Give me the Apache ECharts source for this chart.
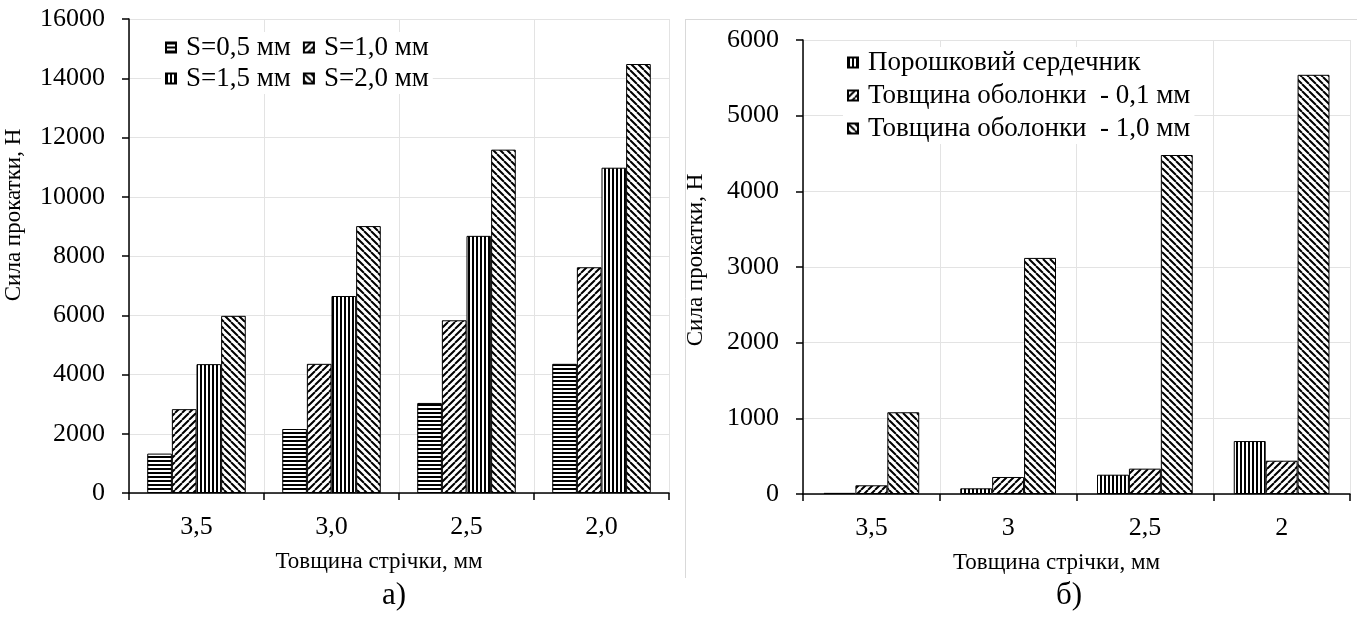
<!DOCTYPE html>
<html>
<head>
<meta charset="utf-8">
<script src="https://cdn.jsdelivr.net/npm/echarts@6/dist/echarts.min.js"></script>
<style>
html,body{margin:0;padding:0;background:#fff;}
#c{width:1363px;height:621px;}
</style>
</head>
<body>
<div id="c"></div>
<script>
// ---- data: chart a) ----
const catsA = ['3,5', '3,0', '2,5', '2,0'];
const namesA = ['S=0,5 мм', 'S=1,0 мм', 'S=1,5 мм', 'S=2,0 мм'];
const s05 = [1330, 2160, 3040, 4360];
const s10 = [2830, 4360, 5830, 7620];
const s15 = [4350, 6650, 8680, 10980];
const s20 = [5980, 9010, 11590, 14480];

// ---- data: chart б) ----
const catsB = ['3,5', '3', '2,5', '2'];
const namesB = ['Порошковий сердечник', 'Товщина оболонки  - 0,1 мм', 'Товщина оболонки  - 1,0 мм'];
const core = [15, 75, 255, 700];
const shell01 = [115, 225, 335, 440];
const shell10 = [1080, 3120, 4480, 5540];

const yTicksA = [0, 2000, 4000, 6000, 8000, 10000, 12000, 14000, 16000];
const yTicksB = [0, 1000, 2000, 3000, 4000, 5000, 6000];

function pat(w, h, draw) {
  const c = document.createElement('canvas');
  c.width = w; c.height = h;
  const g = c.getContext('2d');
  g.fillStyle = '#fff'; g.fillRect(0, 0, w, h);
  g.fillStyle = '#000'; g.strokeStyle = '#000';
  draw(g, w, h);
  return { image: c, repeat: 'repeat' };
}
const pH = pat(4, 4, (g) => { g.fillRect(0, 0, 4, 2); });
const pV = pat(4, 4, (g) => { g.fillRect(0, 0, 2, 4); });
const pF = pat(7, 7, (g, w, h) => { g.lineWidth = 2; g.beginPath(); for (let k = -1; k <= 1; k++) { g.moveTo(k * w, h); g.lineTo(k * w + w, 0); } g.stroke(); });
const pB = pat(7, 7, (g, w, h) => { g.lineWidth = 2; g.beginPath(); for (let k = -1; k <= 1; k++) { g.moveTo(k * w, 0); g.lineTo(k * w + w, h); } g.stroke(); });

const FONT = 'Liberation Serif';
const txt = { fontFamily: FONT, color: '#000' };
const plain = (v) => String(v);

function bar(name, data, fill, xi, yi, gap) {
  return {
    type: 'bar', name, data, xAxisIndex: xi, yAxisIndex: yi,
    barGap: '0%', barCategoryGap: gap,
    itemStyle: { color: fill, borderColor: '#000', borderWidth: 1 },
    emphasis: { disabled: true }, animation: false
  };
}

const gridLine = { show: true, lineStyle: { color: '#e3e3e3', width: 1 } };
const axisLine = { show: true, lineStyle: { color: '#000', width: 1.5 } };
const tick = { show: true, length: 7, lineStyle: { color: '#000', width: 1.5 } };
const legText = { ...txt, fontSize: 27, lineHeight: 27, padding: [0, 0, 0, 5] };

const option = {
  backgroundColor: '#fff',
  animation: false,
  textStyle: { fontFamily: FONT },
  grid: [
    { left: 129, right: 1363 - 669, top: 19, bottom: 621 - 493, containLabel: false },
    { left: 803, right: 1363 - 1350, top: 40, bottom: 621 - 494, containLabel: false }
  ],
  xAxis: [
    { type: 'category', gridIndex: 0, data: catsA,
      axisLine, axisTick: tick,
      axisLabel: { ...txt, fontSize: 26, margin: 21 },
      splitLine: gridLine,
      name: 'Товщина стрічки, мм', nameLocation: 'middle', nameGap: 57,
      nameTextStyle: { ...txt, fontSize: 23, padding: [0, 40, 0, 0] } },
    { type: 'category', gridIndex: 1, data: catsB,
      axisLine, axisTick: tick,
      axisLabel: { ...txt, fontSize: 26, margin: 21 },
      splitLine: gridLine,
      name: 'Товщина стрічки, мм', nameLocation: 'middle', nameGap: 57,
      nameTextStyle: { ...txt, fontSize: 23, padding: [0, 40, 0, 0] } }
  ],
  yAxis: [
    { type: 'value', gridIndex: 0, min: yTicksA[0], max: yTicksA[yTicksA.length - 1], interval: 2000,
      axisLine, axisTick: tick,
      axisLabel: { ...txt, fontSize: 26, margin: 24, formatter: plain },
      splitLine: gridLine,
      name: 'Сила прокатки, Н', nameLocation: 'middle', nameGap: 104, nameRotate: 90,
      nameTextStyle: { ...txt, fontSize: 23, padding: [0, 0, 0, 82] } },
    { type: 'value', gridIndex: 1, min: yTicksB[0], max: yTicksB[yTicksB.length - 1], interval: 1000,
      axisLine, axisTick: tick,
      axisLabel: { ...txt, fontSize: 26, margin: 24, formatter: plain },
      splitLine: gridLine,
      name: 'Сила прокатки, Н', nameLocation: 'middle', nameGap: 96, nameRotate: 90,
      nameTextStyle: { ...txt, fontSize: 23, padding: [0, 0, 0, 14] } }
  ],
  legend: [
    { data: [namesA[0], namesA[1]], left: 161, top: 32, orient: 'horizontal', itemGap: 12,
      itemWidth: 10, itemHeight: 10, icon: 'rect', backgroundColor: '#fff', padding: [2, 4],
      textStyle: legText, selectedMode: false },
    { data: [namesA[2], namesA[3]], left: 161, top: 63, orient: 'horizontal', itemGap: 12,
      itemWidth: 10, itemHeight: 10, icon: 'rect', backgroundColor: '#fff', padding: [2, 4],
      textStyle: legText, selectedMode: false },
    { data: namesB, left: 843, top: 47, orient: 'vertical', itemGap: 6,
      itemWidth: 10, itemHeight: 10, icon: 'rect', backgroundColor: '#fff', padding: [2, 4],
      textStyle: legText, selectedMode: false }
  ],
  graphic: [
    { type: 'line', shape: { x1: 685.5, y1: 19, x2: 685.5, y2: 578 }, style: { stroke: '#d9d9d9', lineWidth: 1 }, silent: true },
    { type: 'line', shape: { x1: 685, y1: 19.5, x2: 1357, y2: 19.5 }, style: { stroke: '#d9d9d9', lineWidth: 1 }, silent: true },
    { type: 'text', left: 382, top: 580, style: { text: 'а)', font: '31px "Liberation Serif"', fill: '#000' }, silent: true },
    { type: 'text', left: 1056, top: 580, style: { text: 'б)', font: '31px "Liberation Serif"', fill: '#000' }, silent: true }
  ],
  series: [
    bar(namesA[0], s05, pH, 0, 0, '27%'),
    bar(namesA[1], s10, pF, 0, 0, '27%'),
    bar(namesA[2], s15, pV, 0, 0, '27%'),
    bar(namesA[3], s20, pB, 0, 0, '27%'),
    bar(namesB[0], core, pV, 1, 1, '30%'),
    bar(namesB[1], shell01, pF, 1, 1, '30%'),
    bar(namesB[2], shell10, pB, 1, 1, '30%')
  ]
};

const chart = echarts.init(document.getElementById('c'), null, { renderer: 'canvas' });
chart.setOption(option);
</script>
</body>
</html>
